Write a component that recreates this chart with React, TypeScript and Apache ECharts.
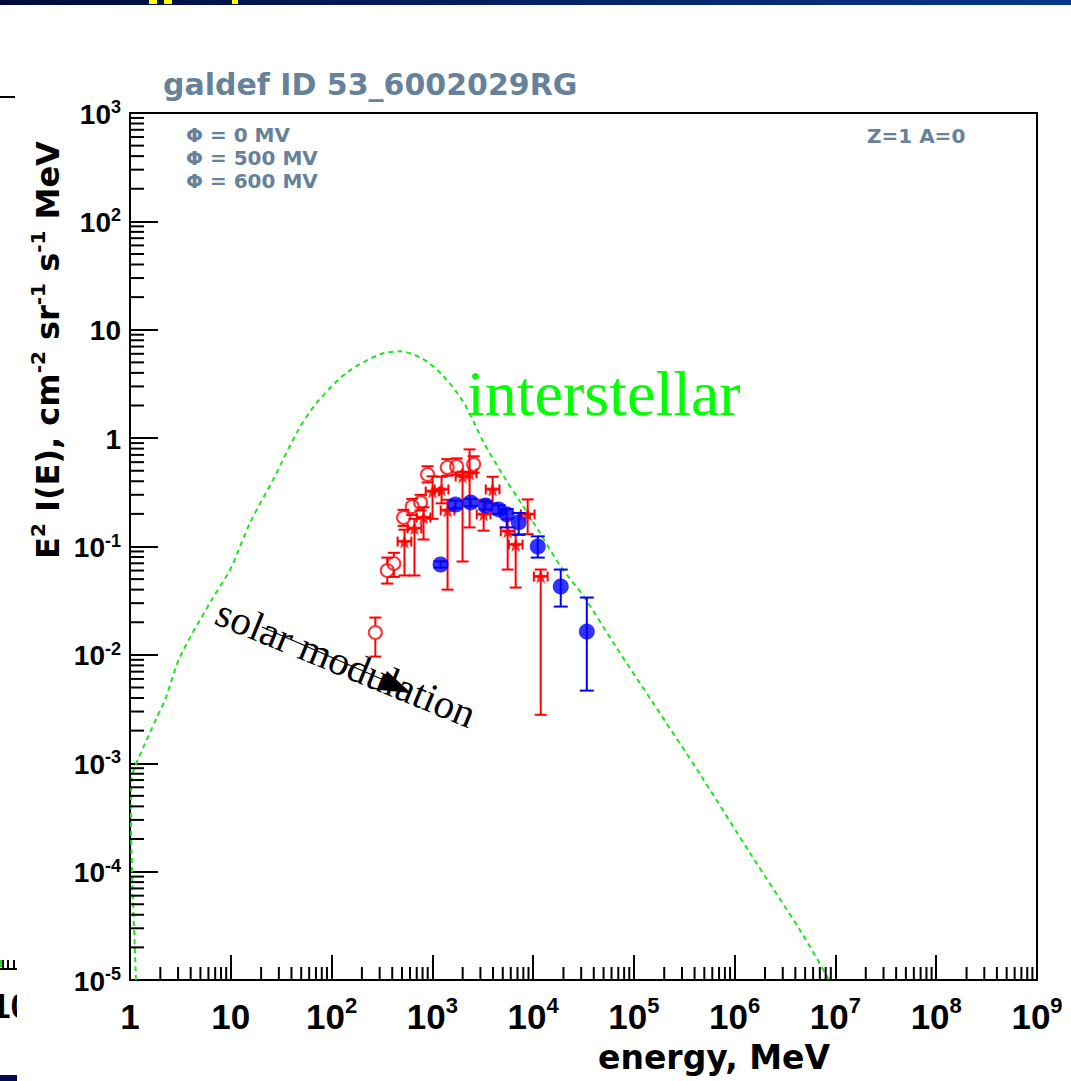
import React, { useEffect, useRef } from 'react';
import * as echarts from 'echarts';

// ---- interstellar model curve (E in MeV, E^2 I(E)) ----
const modelEnergy = [1.147, 1.071, 1.023, 1.035, 1.12, 1.58, 1.84, 2.23, 3.14, 6.49, 9.86, 15.6, 26.4, 45.4, 71.8, 143, 305, 483, 818, 1291, 2042, 3228, 5105, 7534, 11117, 18793, 31842, 66222, 147570, 463447, 1455000, 4571000, 8670000];
const modelFlux = [1e-5, 5.6e-5, 3.0e-4, 7.0e-4, 9.3e-4, 1.92e-3, 2.63e-3, 3.86e-3, 9.6e-3, 0.0324, 0.0614, 0.167, 0.416, 1.13, 2.14, 4.05, 5.94, 6.32, 5.33, 3.72, 2.14, 0.914, 0.444, 0.255, 0.144, 0.0653, 0.0345, 0.0119, 3.86e-3, 7.67e-4, 1.43e-4, 2.77e-5, 1e-5];

// ---- red open circles ----
const openEnergy = [272, 357, 415, 518, 631, 764, 896, 1406, 1742, 2570];
const openFlux = [0.0161, 0.060, 0.0697, 0.185, 0.234, 0.255, 0.462, 0.537, 0.548, 0.573];
const openLow = [0.00964, 0.0455, 0.0524, 0.155, 0.195, 0.215, 0.39, 0.45, 0.46, 0.48];
const openHigh = [0.0221, 0.079, 0.0875, 0.218, 0.275, 0.30, 0.55, 0.64, 0.65, 0.68];

// ---- red filled stars ----
const starEnergy = [529, 665, 818, 1005, 1234, 1416, 1995, 2343, 3228, 3963, 5593, 6714, 8831, 11900];
const starFlux = [0.111, 0.147, 0.185, 0.322, 0.336, 0.215, 0.443, 0.472, 0.198, 0.336, 0.138, 0.104, 0.198, 0.0528];
const starLow = [0.054, 0.054, 0.116, 0.18, 0.25, 0.040, 0.0727, 0.150, 0.14, 0.25, 0.0613, 0.0418, 0.13, 0.0028];
const starHigh = [0.143, 0.18, 0.23, 0.444, 0.44, 0.27, 0.49, 0.787, 0.27, 0.44, 0.18, 0.13, 0.272, 0.0613];
const starELow = [452, 568, 699, 859, 1055, 1210, 1705, 2003, 2759, 3387, 4780, 5738, 7548, 10171];
const starEHigh = [619, 778, 957, 1176, 1444, 1657, 2334, 2741, 3777, 4637, 6544, 7855, 10332, 13923];

// ---- blue filled circles ----
const blueEnergy = [1207, 1701, 2399, 3380, 4550, 5466, 7194, 11117, 18800, 34100];
const blueFlux = [0.0682, 0.244, 0.255, 0.239, 0.220, 0.198, 0.167, 0.100, 0.0427, 0.0164];
const blueLow = [0.064, 0.225, 0.235, 0.22, 0.20, 0.15, 0.128, 0.079, 0.0279, 0.00468];
const blueHigh = [0.073, 0.265, 0.275, 0.26, 0.24, 0.222, 0.204, 0.124, 0.0613, 0.0338];

// ---- texts ----
const titleText = 'galdef ID 53_6002029RG';
const legendLines = ['\u03A6 = 0 MV', '\u03A6 = 500 MV', '\u03A6 = 600 MV'];
const zaText = 'Z=1 A=0';
const xAxisTitle = 'energy, MeV';
const xDecades = [0, 1, 2, 3, 4, 5, 6, 7, 8, 9];
const yDecades = [-5, -4, -3, -2, -1, 0, 1, 2, 3];

const SLATE = '#66829a';
const STAR_PATH = 'path://M0,-10 L2.6,-3.4 L9.5,-3.1 L4.1,1.3 L5.9,8.1 L0,4.2 L-5.9,8.1 L-4.1,1.3 L-9.5,-3.1 L-2.6,-3.4 Z';

function minorTicks(decades: number[]) {
  const out: number[] = [];
  for (let i = 0; i < decades.length - 1; i++) {
    for (let m = 2; m <= 9; m++) out.push(m * Math.pow(10, decades[i]));
  }
  return out;
}

function expLabel(v: number) {
  const e = Math.round(Math.log10(v));
  if (e === 0) return '{b|1}';
  if (e === 1) return '{b|10}';
  return '{b|10}{s|' + e + '}';
}

const makeErr = (color: string, gap: number, cap: number, withX: boolean) => (params: any, api: any) => {
  const x = api.value(0);
  const y = api.value(1);
  const c = api.coord([x, y]);
  const lo = api.coord([x, api.value(2)]);
  const hi = api.coord([x, api.value(3)]);
  const st = { stroke: color, lineWidth: 2 };
  const ch: any[] = [];
  const L = (x1: number, y1: number, x2: number, y2: number) =>
    ch.push({ type: 'line', shape: { x1, y1, x2, y2 }, style: st });
  if (hi[1] < c[1] - gap) {
    L(c[0], c[1] - gap, c[0], hi[1]);
    L(c[0] - cap, hi[1], c[0] + cap, hi[1]);
  }
  if (lo[1] > c[1] + gap) {
    L(c[0], c[1] + gap, c[0], lo[1]);
    L(c[0] - cap, lo[1], c[0] + cap, lo[1]);
  }
  if (withX) {
    const xl = api.coord([api.value(4), y]);
    const xh = api.coord([api.value(5), y]);
    L(xl[0], c[1], xh[0], c[1]);
    L(xl[0], c[1] - 5, xl[0], c[1] + 5);
    L(xh[0], c[1] - 5, xh[0], c[1] + 5);
  }
  return { type: 'group', children: ch };
};

export default function App() {
  const ref = useRef<HTMLDivElement>(null);
  useEffect(() => {
    document.body.style.margin = '0';
    if (!ref.current) return;
    const chart = echarts.init(ref.current, undefined, { renderer: 'svg' });
    const xMinor = minorTicks(xDecades);
    const yMinor = minorTicks(yDecades);
    const labelFont = 'Liberation Sans';
    const dv = 'DejaVu Sans';

    const option: any = {
      animation: false,
      backgroundColor: '#ffffff',
      grid: { left: 130, top: 113, right: 34, bottom: 101, show: true, borderColor: '#000', borderWidth: 2, backgroundColor: 'transparent' },
      xAxis: {
        type: 'log', logBase: 10, min: 1, max: 1e9, splitNumber: 9,
        axisLine: { show: true, lineStyle: { color: '#000', width: 2 } },
        axisTick: { show: true, inside: true, length: 25, lineStyle: { color: '#000', width: 2 } },
        splitLine: { show: false },
        axisLabel: {
          show: true, margin: 14, showMinLabel: true, showMaxLabel: true,
          formatter: (v: number) => expLabel(v),
          rich: {
            b: { fontFamily: labelFont, fontWeight: 'bold', fontSize: 35, color: '#000', lineHeight: 40, verticalAlign: 'bottom' },
            s: { fontFamily: labelFont, fontWeight: 'bold', fontSize: 22, color: '#000', lineHeight: 22, verticalAlign: 'top' },
          },
        },
      },
      yAxis: {
        type: 'log', logBase: 10, min: 1e-5, max: 1e3, splitNumber: 8,
        axisLine: { show: true, lineStyle: { color: '#000', width: 2 } },
        axisTick: { show: true, inside: true, length: 28, lineStyle: { color: '#000', width: 2 } },
        splitLine: { show: false },
        axisLabel: {
          show: true, margin: 9, showMinLabel: true, showMaxLabel: true,
          formatter: (v: number) => expLabel(v),
          rich: {
            b: { fontFamily: labelFont, fontWeight: 'bold', fontSize: 28, color: '#000', lineHeight: 30, verticalAlign: 'bottom' },
            s: { fontFamily: labelFont, fontWeight: 'bold', fontSize: 18, color: '#000', lineHeight: 18, verticalAlign: 'top' },
          },
        },
      },
      series: [
        {
          type: 'custom', silent: true, clip: false, z: 5,
          data: xMinor.map((v) => [v, 1e-5]),
          renderItem: (p: any, api: any) => {
            const pt = api.coord([api.value(0), api.value(1)]);
            return { type: 'line', shape: { x1: pt[0], y1: pt[1], x2: pt[0], y2: pt[1] - 13 }, style: { stroke: '#000', lineWidth: 2 } };
          },
        },
        {
          type: 'custom', silent: true, clip: false, z: 5,
          data: yMinor.map((v) => [1, v]),
          renderItem: (p: any, api: any) => {
            const pt = api.coord([api.value(0), api.value(1)]);
            return { type: 'line', shape: { x1: pt[0], y1: pt[1], x2: pt[0] + 14, y2: pt[1] }, style: { stroke: '#000', lineWidth: 2 } };
          },
        },
        {
          type: 'line', z: 2, showSymbol: false, silent: true, smooth: 0.3,
          data: modelEnergy.map((e, i) => [e, modelFlux[i]]),
          lineStyle: { color: '#1ee61e', width: 2, type: [5, 4] },
        },
        {
          type: 'custom', z: 3, silent: true,
          data: openEnergy.map((e, i) => [e, openFlux[i], openLow[i], openHigh[i]]),
          renderItem: makeErr('#ff0000', 7, 6, false),
        },
        {
          type: 'scatter', z: 4, silent: true, symbol: 'circle', symbolSize: 13,
          data: openEnergy.map((e, i) => [e, openFlux[i]]),
          itemStyle: { color: 'rgba(255,255,255,0)', borderColor: '#ff0000', borderWidth: 2 },
        },
        {
          type: 'custom', z: 5, silent: true,
          data: starEnergy.map((e, i) => [e, starFlux[i], starLow[i], starHigh[i], starELow[i], starEHigh[i]]),
          renderItem: makeErr('#ff0000', 0, 6, true),
        },
        {
          type: 'scatter', z: 6, silent: true, symbol: STAR_PATH, symbolSize: 14,
          data: starEnergy.map((e, i) => [e, starFlux[i]]),
          itemStyle: { color: '#ff0000' },
        },
        {
          type: 'custom', z: 7, silent: true,
          data: blueEnergy.map((e, i) => [e, blueFlux[i], blueLow[i], blueHigh[i]]),
          renderItem: makeErr('#0000ff', 0, 7, false),
        },
        {
          type: 'scatter', z: 8, silent: true, symbol: 'circle', symbolSize: 16,
          data: blueEnergy.map((e, i) => [e, blueFlux[i]]),
          itemStyle: { color: '#0000ff' },
        },
      ],
      graphic: [
        // top banner remnant
        { type: 'rect', shape: { x: 0, y: 0, width: 1071, height: 5 }, style: { fill: new echarts.graphic.LinearGradient(0, 0, 1, 0, [{ offset: 0, color: '#000b3c' }, { offset: 1, color: '#06378a' }]) } },
        { type: 'rect', shape: { x: 149, y: 0, width: 8, height: 4 }, style: { fill: '#ffff00' } },
        { type: 'rect', shape: { x: 164, y: 0, width: 8, height: 4 }, style: { fill: '#ffff00' } },
        { type: 'rect', shape: { x: 232, y: 0, width: 6, height: 4 }, style: { fill: '#ffff00' } },
        // left-side remnants
        { type: 'line', shape: { x1: 0, y1: 97, x2: 15, y2: 97 }, style: { stroke: '#000', lineWidth: 2 } },
        { type: 'line', shape: { x1: 0, y1: 969, x2: 17, y2: 969 }, style: { stroke: '#000', lineWidth: 2 } },
        { type: 'line', shape: { x1: 3, y1: 960, x2: 3, y2: 969 }, style: { stroke: '#000', lineWidth: 2 } },
        { type: 'line', shape: { x1: 8, y1: 960, x2: 8, y2: 969 }, style: { stroke: '#000', lineWidth: 2 } },
        { type: 'line', shape: { x1: 14, y1: 960, x2: 14, y2: 969 }, style: { stroke: '#000', lineWidth: 2 } },
        { type: 'rect', shape: { x: 0, y: 960, width: 2, height: 7 }, style: { fill: '#22dd22' } },
        { type: 'text', x: -9, y: 1005, style: { text: '10', fontFamily: labelFont, fontWeight: 'bold', fontSize: 35, fill: '#000', textAlign: 'left', align: 'left', textVerticalAlign: 'middle', verticalAlign: 'middle' } },
        { type: 'rect', shape: { x: 17, y: 985, width: 44, height: 45 }, style: { fill: '#fff' } },
        { type: 'rect', shape: { x: 0, y: 1075, width: 17, height: 6 }, style: { fill: '#000a50' } },
        // title
        { type: 'text', x: 163, y: 84, style: { text: titleText, fontFamily: dv, fontWeight: 'bold', fontSize: 30, fill: SLATE, textAlign: 'left', align: 'left', textVerticalAlign: 'middle', verticalAlign: 'middle' } },
        // legend lines
        ...legendLines.map((t, i) => ({ type: 'text', x: 186, y: 135 + i * 23, style: { text: t, fontFamily: dv, fontWeight: 'bold', fontSize: 20, fill: SLATE, textAlign: 'left', align: 'left', textVerticalAlign: 'middle', verticalAlign: 'middle' } })),
        { type: 'text', x: 867, y: 136, style: { text: zaText, fontFamily: dv, fontWeight: 'bold', fontSize: 20, fill: SLATE, textAlign: 'left', align: 'left', textVerticalAlign: 'middle', verticalAlign: 'middle' } },
        // axis titles
        { type: 'text', x: 830, y: 1057, style: { text: xAxisTitle, fontFamily: dv, fontWeight: 'bold', fontSize: 33, fill: '#000', textAlign: 'right', align: 'right', textVerticalAlign: 'middle', verticalAlign: 'middle' } },
        {
          type: 'text', x: 46, y: 350, rotation: Math.PI / 2,
          style: {
            text: '{b|E}{s|2}{b| I(E), cm}{s|-2}{b| sr}{s|-1}{b| s}{s|-1}{b| MeV}',
            textAlign: 'center', align: 'center', textVerticalAlign: 'middle', verticalAlign: 'middle',
            rich: {
              b: { fontFamily: dv, fontWeight: 'bold', fontSize: 32, fill: '#000', color: '#000', lineHeight: 36, verticalAlign: 'bottom' },
              s: { fontFamily: dv, fontWeight: 'bold', fontSize: 20, fill: '#000', color: '#000', lineHeight: 20, verticalAlign: 'top' },
            },
          },
        },
        // annotations
        { type: 'text', x: 467, y: 393, style: { text: 'interstellar', fontFamily: 'Liberation Serif', fontSize: 64, fill: '#00ff00', textAlign: 'left', align: 'left', textVerticalAlign: 'middle', verticalAlign: 'middle' } },
        { type: 'line', shape: { x1: 262, y1: 627, x2: 386, y2: 681 }, style: { stroke: '#000', lineWidth: 1.2 } },
        { type: 'polygon', shape: { points: [[411, 693], [380, 690], [387, 671]] }, style: { fill: '#000' } },
        { type: 'text', x: 346, y: 663, rotation: -0.39, style: { text: 'solar modulation', fontFamily: 'Liberation Serif', fontSize: 41, fill: '#000', textAlign: 'center', align: 'center', textVerticalAlign: 'middle', verticalAlign: 'middle' } },
      ],
    };
    chart.setOption(option);
    return () => chart.dispose();
  }, []);
  return <div ref={ref} style={{ width: 1071, height: 1081 }} />;
}
